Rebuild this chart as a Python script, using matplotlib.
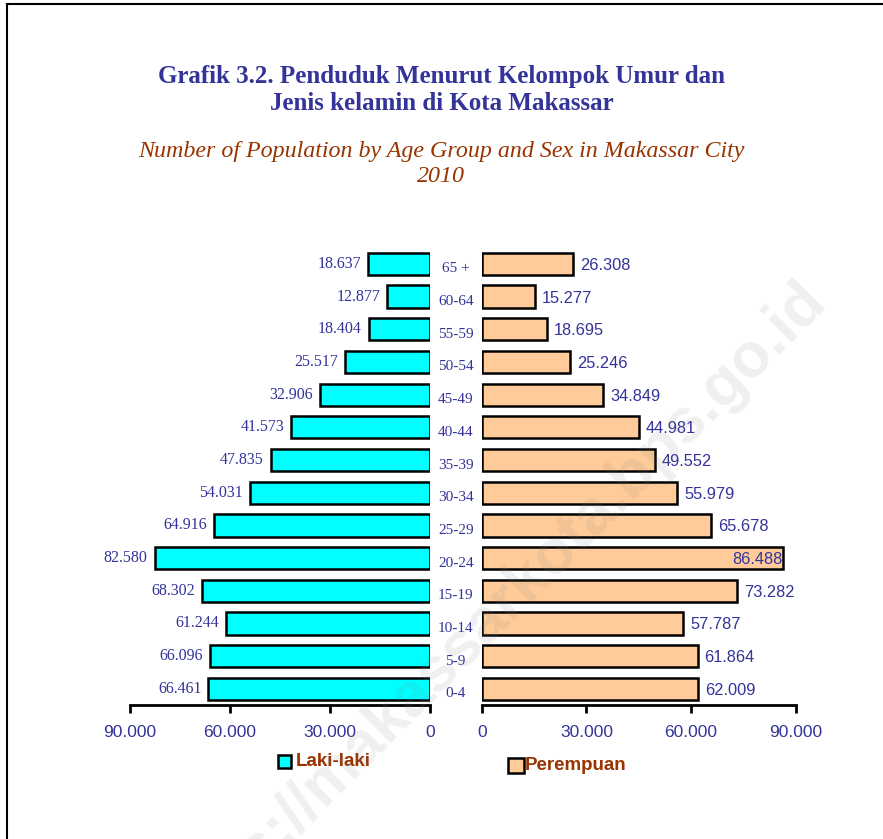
import matplotlib
matplotlib.use("Agg")
import matplotlib.pyplot as plt
from matplotlib.patches import Rectangle
from matplotlib.lines import Line2D

age_groups = ["0-4", "5-9", "10-14", "15-19", "20-24", "25-29", "30-34",
              "35-39", "40-44", "45-49", "50-54", "55-59", "60-64", "65 +"]
male = [66461, 66096, 61244, 68302, 82580, 64916, 54031,
        47835, 41573, 32906, 25517, 18404, 12877, 18637]
female = [62009, 61864, 57787, 73282, 86488, 65678, 55979,
          49552, 44981, 34849, 25246, 18695, 15277, 26308]
xticks = [0, 30000, 60000, 90000]
xticklabels = ["0", "30.000", "60.000", "90.000"]

W, H = 883, 839
fig = plt.figure(figsize=(W / 100, H / 100), dpi=100)
PX = 72 / 100  # points per pixel

blue = "#333399"
brown = "#993300"
serif = ["Liberation Serif", "DejaVu Serif"]
sans = ["Liberation Sans", "DejaVu Sans"]

def fx(px):
    return px / W

def fy(py):
    return 1 - py / H

# frame
fig.add_artist(Line2D([fx(7), fx(7)], [fy(4), 0], color="black", lw=1.5, transform=fig.transFigure))
fig.add_artist(Line2D([fx(7), 1], [fy(4), fy(4)], color="black", lw=1.5, transform=fig.transFigure))

ax_bottom = fy(705.2)
ax_h = fy(247.5) - ax_bottom
axL = fig.add_axes([fx(130), ax_bottom, fx(300), ax_h])
axR = fig.add_axes([fx(481.7), ax_bottom, fx(314), ax_h])

def fmt(v):
    return f"{v:,}".replace(",", ".")

ypos = list(range(len(age_groups)))
axL.barh(ypos, male, height=0.68, color="#00FFFF", edgecolor="black", linewidth=1.8)
axR.barh(ypos, female, height=0.68, color="#FFCC99", edgecolor="black", linewidth=1.8)

for ax in (axL, axR):
    ax.set_ylim(-0.5, len(age_groups) - 0.5)
    ax.set_xlim(0, 90000)
    for s in ("top", "left", "right"):
        ax.spines[s].set_visible(False)
    ax.spines["bottom"].set_linewidth(2)
    ax.set_yticks([])
    ax.set_xticks(xticks)
    ax.set_xticklabels(xticklabels, fontfamily=sans, fontsize=12.5, color=blue)
    ax.tick_params(axis="x", length=6, width=2, pad=8)
    ax.patch.set_alpha(0)
axL.invert_xaxis()

for y, v in zip(ypos, male):
    axL.annotate(fmt(v), (v, y), xytext=(-7 * PX, 0), textcoords="offset points",
                 ha="right", va="center", fontfamily=serif, fontsize=11.5, color=blue)
for y, v in zip(ypos, female):
    if v > 80000:
        axR.annotate(fmt(v), (v, y), xytext=(-1 * PX, -1 * PX), textcoords="offset points",
                     ha="right", va="center", fontfamily=sans, fontsize=11.8, color=blue)
    else:
        axR.annotate(fmt(v), (v, y), xytext=(7 * PX, -1.5 * PX), textcoords="offset points",
                     ha="left", va="center", fontfamily=sans, fontsize=11.8, color=blue)

# category labels between the two halves
for y, lab in zip(ypos, age_groups):
    axR.annotate(lab, (0, y), xytext=(-26 * PX, -5 * PX), textcoords="offset points",
                 ha="center", va="center", fontfamily=serif, fontsize=11, color=blue,
                 annotation_clip=False)

# titles
fig.text(fx(442), fy(77), "Grafik 3.2. Penduduk Menurut Kelompok Umur dan",
         ha="center", va="center", fontfamily=serif, fontweight="bold", fontsize=18, color=blue)
fig.text(fx(442), fy(103), "Jenis kelamin di Kota Makassar",
         ha="center", va="center", fontfamily=serif, fontweight="bold", fontsize=18, color=blue)
fig.text(fx(441), fy(151), "Number of Population by Age Group and Sex in Makassar City",
         ha="center", va="center", fontfamily=serif, style="italic", fontsize=17.3, color=brown)
fig.text(fx(441), fy(176), "2010",
         ha="center", va="center", fontfamily=serif, style="italic", fontsize=17.3, color=brown)

# legend
fig.add_artist(Rectangle((fx(278), fy(767.5)), fx(13), 12.5 / H, facecolor="#00FFFF",
                         edgecolor="black", linewidth=1.8, transform=fig.transFigure))
fig.text(fx(296), fy(762), "Laki-laki", ha="left", va="center", fontfamily=sans,
         fontweight="bold", fontsize=13.5, color=brown)
fig.add_artist(Rectangle((fx(508), fy(772.5)), fx(15.5), 15 / H, facecolor="#FFCC99",
                         edgecolor="black", linewidth=1.8, transform=fig.transFigure))
fig.text(fx(525), fy(766), "Perempuan", ha="left", va="center", fontfamily=sans,
         fontweight="bold", fontsize=13.5, color=brown)

# watermark
fig.text(fx(828), fy(302), "https://makassarkota.bps.go.id", ha="right", va="baseline",
         rotation=45, rotation_mode="anchor", fontfamily=sans, fontweight="bold", fontsize=45,
         color="#808080", alpha=0.12, zorder=10)

fig.savefig("out.png", dpi=100)
